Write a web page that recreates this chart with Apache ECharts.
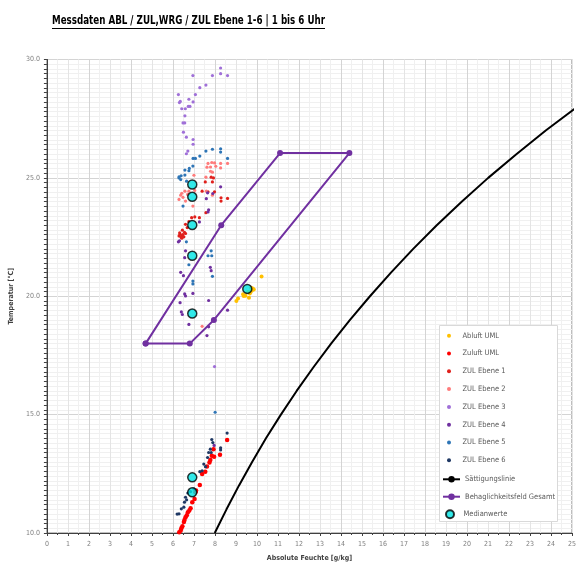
<!DOCTYPE html>
<html>
<head>
<meta charset="utf-8">
<script src="https://cdn.jsdelivr.net/npm/echarts@6/dist/echarts.min.js"></script>
<style>
html,body{margin:0;padding:0;background:#fff;}
#chart{width:579px;height:567px;}
</style>
</head>
<body>
<div id="chart"></div>
<script>
// ---------- DATA ----------
const titleText = 'Messdaten ABL / ZUL,WRG / ZUL Ebene 1-6 | 1 bis 6 Uhr';
const xAxisName = 'Absolute Feuchte [g/kg]';
const yAxisName = 'Temperatur [°C]';
const seriesNames = ['Abluft UML','Zuluft UML','ZUL Ebene 1','ZUL Ebene 2','ZUL Ebene 3','ZUL Ebene 4','ZUL Ebene 5','ZUL Ebene 6','Sättigungslinie','Behaglichkeitsfeld Gesamt','Medianwerte'];

const abluftUML = [[10.22,20.83],[9.85,20.28],[9.80,20.33],[9.76,20.24],[9.70,20.18],[9.66,20.12],[9.62,19.94],[9.57,20.18],[9.45,20.02],[9.37,20.01],[9.34,20.08],[9.10,19.90],[9.02,19.80],[9.72,20.36]];
const zuluftUML = [[8.58,13.93],[8.24,13.30],[7.96,13.22],[7.93,13.54],[7.85,13.26],[7.78,13.08],[7.74,12.98],[7.62,12.81],[7.54,12.59],[7.39,12.49],[7.28,12.03],[7.10,11.80],[7.07,11.72],[7.03,11.44],[6.92,11.30],[6.84,11.05],[6.78,10.95],[6.71,10.88],[6.66,10.75],[6.60,10.67],[6.55,10.55],[6.52,10.46],[6.45,10.29],[6.40,10.20],[6.37,10.11],[6.30,10.03]];
const zulEbene1 = [[7.82,25.03],[7.93,25.00],[7.88,24.83],[7.54,24.83],[7.39,24.44],[7.67,24.41],[7.98,24.41],[8.29,24.16],[8.29,24.02],[8.60,24.13],[7.57,23.53],[7.26,23.32],[7.04,23.35],[6.89,23.32],[6.76,23.15],[6.60,23.04],[6.68,22.90],[6.45,22.79],[6.34,22.62],[6.42,22.55],[6.52,22.51],[6.29,22.55],[6.60,22.65],[6.38,22.50],[6.47,22.60],[6.55,22.70],[6.32,22.68],[6.42,22.45]];
const zulEbene2 = [[7.67,25.61],[7.85,25.65],[7.98,25.63],[8.04,25.49],[8.27,25.61],[8.60,25.61],[8.27,25.42],[7.62,25.45],[7.79,25.46],[7.79,25.28],[7.88,25.24],[7.57,25.03],[7.00,25.11],[6.57,24.44],[6.76,24.44],[6.37,24.27],[6.48,24.18],[6.60,24.02],[6.29,24.09],[7.04,24.47],[7.59,24.44],[7.88,24.27],[6.95,23.81],[7.39,18.73],[6.42,24.35],[6.70,24.30]];
const zulEbene3 = [[8.27,29.64],[8.27,29.40],[8.60,29.32],[7.88,29.32],[6.95,29.32],[7.57,28.92],[7.28,28.81],[7.07,28.52],[6.26,28.52],[6.76,28.32],[6.35,28.23],[6.31,28.18],[6.96,28.21],[6.81,28.02],[6.73,28.02],[6.42,27.92],[6.59,27.92],[6.57,27.62],[6.48,27.32],[6.56,27.32],[6.50,26.93],[6.64,26.72],[6.96,26.62],[6.96,26.42],[6.71,26.13],[6.64,26.02],[7.98,17.03]];
const zulEbene4 = [[8.27,24.62],[7.65,24.37],[7.90,24.34],[7.59,24.12],[7.67,23.56],[7.70,23.65],[7.26,23.14],[6.31,22.34],[6.26,22.30],[6.60,21.92],[6.56,21.63],[7.78,21.22],[7.82,21.08],[6.37,21.01],[6.50,20.87],[6.56,20.10],[6.60,20.01],[6.95,20.12],[7.70,19.82],[6.34,19.73],[6.40,19.34],[6.45,19.23],[6.76,18.81],[8.60,19.41],[7.70,18.71],[7.62,18.34],[7.96,13.70]];
const zulEbene5 = [[8.27,26.23],[8.27,26.09],[7.88,26.21],[7.57,26.13],[7.28,25.92],[6.96,25.82],[7.07,25.82],[8.60,25.82],[6.95,25.50],[6.78,25.40],[6.57,25.33],[6.76,25.30],[6.57,25.12],[6.39,25.09],[6.29,25.04],[6.29,25.00],[6.37,24.93],[6.65,24.86],[6.48,23.81],[6.64,22.30],[7.67,21.71],[7.82,21.92],[7.85,21.71],[6.76,21.33],[7.88,20.84],[6.95,20.64],[6.95,20.52],[8.01,15.10]];
const zulEbene6 = [[8.58,14.22],[8.27,13.60],[8.27,13.51],[7.85,13.95],[7.90,13.82],[7.78,13.54],[7.82,13.40],[7.70,13.40],[7.65,13.19],[7.47,12.91],[7.55,12.80],[7.39,12.63],[7.28,12.59],[7.00,11.86],[6.84,11.75],[6.71,11.69],[6.65,11.40],[6.60,11.51],[6.55,11.30],[6.52,11.09],[6.40,11.02],[6.29,10.81],[6.20,10.80]];
const saettigungslinie = [[7.99,10],[8.55,11],[9.14,12],[9.77,13],[10.43,14],[11.14,15],[11.89,16],[12.69,17],[13.53,18],[14.43,19],[15.38,20],[16.38,21],[17.44,22],[18.56,23],[19.76,24],[21.01,25],[22.35,26],[23.75,27],[25.24,28]];
const behaglichkeitsfeld = [[4.7,18],[6.8,18],[7.95,19],[14.4,26.05],[11.1,26.05],[8.3,23],[4.7,18]];
const medianwerte = [[6.92,24.72],[6.92,24.20],[6.92,23.01],[6.92,21.71],[6.92,19.27],[9.54,20.31],[6.92,12.35],[6.92,11.72]];
const xTicks = {min:0, max:25, interval:1};
const yTicks = {min:10, max:30, interval:5};

// ---------- STYLE ----------
const FONT = "'Liberation Sans Narrow','DejaVu Sans Condensed','Liberation Sans',sans-serif";
const colors = ['#ffc000','#ff0000','#e0201c','#ff7b7b','#a070d8','#7030a0','#2e75b6','#1f3864','#000000','#7030a0','#00e5e5'];

const chart = echarts.init(document.getElementById('chart'), null, {renderer:'canvas'});

// measure title width to fit reference width
const cv = document.createElement('canvas').getContext('2d');
cv.font = "bold 12px " + FONT;
const tw = cv.measureText(titleText).width;
const titleW = 273;
const sx = titleW / tw;

const scatterData = [abluftUML, zuluftUML, zulEbene1, zulEbene2, zulEbene3, zulEbene4, zulEbene5, zulEbene6];
const scatterSizes = [4, 4.5, 3.2, 3.2, 3.2, 3.2, 3.2, 3.2];
const series = scatterData.map((d,i)=>({
  name: seriesNames[i], type:'scatter', data:d, symbolSize: scatterSizes[i],
  itemStyle:{color:colors[i], opacity:1}, z: 3
}));
series.push({name:seriesNames[8], type:'line', data:saettigungslinie, smooth:false, showSymbol:false, symbol:'none',
  lineStyle:{color:'#000', width:2}, itemStyle:{color:'#000'}, z:2});
series.push({name:seriesNames[9], type:'line', data:behaglichkeitsfeld, symbol:'circle', symbolSize:6, showSymbol:true,
  lineStyle:{color:colors[9], width:2}, itemStyle:{color:colors[9]}, z:4});
series.push({name:seriesNames[10], type:'scatter', data:medianwerte, symbolSize:9,
  itemStyle:{color:colors[10], borderColor:'#000', borderWidth:1.5}, z:6});

const legendText = {fontFamily:FONT, fontSize:7.5, color:'#595959', lineHeight:10};
const option = {
  animation:false,
  backgroundColor:'#fff',
  textStyle:{fontFamily:FONT},
  graphic:[
    {type:'text', x:52, y:15, scaleX:sx, style:{text:titleText, font:"bold 12px "+FONT, fill:'#000'}, z:10},
    {type:'line', shape:{x1:52, y1:28.5, x2:52+titleW, y2:28.5}, style:{stroke:'#000', lineWidth:1}, z:10},
    {type:'rect', shape:{x:439.5, y:325.5, width:118, height:196}, style:{fill:'#fff', stroke:'#d9d9d9', lineWidth:1}, z:10}
  ],
  grid:{left:44.5, top:59.5, right:1, bottom:30.3, show:true, borderColor:'#808080', borderWidth:1, backgroundColor:'#fff'},
  xAxis:{type:'value', min:xTicks.min, max:xTicks.max, interval:xTicks.interval,
    name:xAxisName, nameLocation:'middle', nameGap:22,
    nameTextStyle:{fontFamily:FONT, fontSize:7, fontWeight:'bold', color:'#404040'},
    axisLine:{show:true, onZero:false, lineStyle:{color:'#404040', width:1}},
    axisTick:{show:true, length:3, lineStyle:{color:'#404040'}},
    minorTick:{show:true, splitNumber:2, length:2, lineStyle:{color:'#404040'}},
    axisLabel:{fontSize:7, color:'#808080', margin:8, fontFamily:FONT},
    splitLine:{show:true, lineStyle:{color:['#d4d4d4','#e4e4e4'], width:1}},
    minorSplitLine:{show:true, lineStyle:{color:'#f0f0f0', width:1}}
  },
  yAxis:{type:'value', min:yTicks.min, max:yTicks.max, interval:yTicks.interval,
    name:yAxisName, nameLocation:'middle', nameGap:21, nameRotate:90,
    nameTextStyle:{fontFamily:FONT, fontSize:7, fontWeight:'bold', color:'#404040'},
    axisLine:{show:true, onZero:false, lineStyle:{color:'#404040', width:1}},
    axisTick:{show:true, length:3, lineStyle:{color:'#404040'}},
    minorTick:{show:true, splitNumber:25, length:3, lineStyle:{color:'#404040'}},
    axisLabel:{fontSize:7, color:'#808080', margin:7, fontFamily:FONT, formatter:v=>v.toFixed(1)},
    splitLine:{show:true, lineStyle:{color:'#d4d4d4', width:1}},
    minorSplitLine:{show:true, lineStyle:{color:'#f0f0f0', width:1}}
  },
  legend:[
    {data:seriesNames.slice(0,8), orient:'vertical', left:447, top:330.7, padding:0, itemWidth:17, itemHeight:4, itemGap:7.8,
      icon:'circle', textStyle:legendText, z:20},
    {data:seriesNames.slice(8,10), orient:'vertical', left:442, top:474.3, padding:0, itemWidth:17, itemHeight:8, itemGap:7.4,
      textStyle:legendText, z:20},
    {data:[seriesNames[10]], orient:'vertical', left:445, top:509.3, padding:0, itemWidth:17, itemHeight:8,
      icon:'circle', textStyle:legendText, z:20}
  ],
  series:series
};
chart.setOption(option);
</script>
</body>
</html>
